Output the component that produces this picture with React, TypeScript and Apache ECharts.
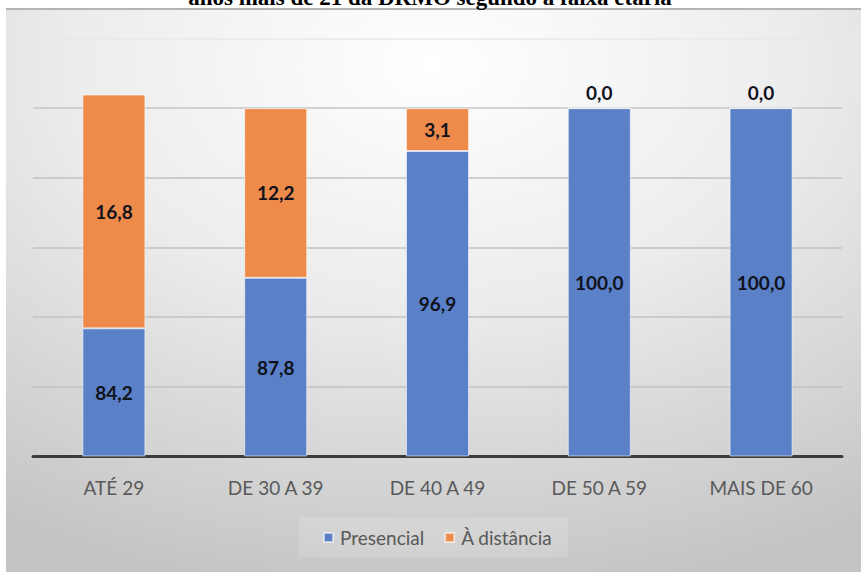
import React, { useEffect, useRef } from "react";
import * as echarts from "echarts";

const categories = ["ATÉ 29", "DE 30 A 39", "DE 40 A 49", "DE 50 A 59", "MAIS DE 60"];
// bar heights as drawn in the reference
const presencialValues = [36.8, 51.3, 87.7, 100, 100];
const distanciaValues = [67.1, 48.7, 12.3, 0, 0];
// data labels as printed in the reference
const presencialLabels = ["84,2", "87,8", "96,9", "100,0", "100,0"];
const distanciaLabels = ["16,8", "12,2", "3,1", "0,0", "0,0"];
const seriesNames = ["Presencial", "À distância"];
const titleText = "anos mais de 21 da DRMO segundo a faixa etária";

const BLUE = "#5a80c8";
const ORANGE = "#ee8b4a";
const LABEL_FONT = "Lato, 'Noto Sans', sans-serif";

export default function App() {
  const ref = useRef<HTMLDivElement>(null);
  useEffect(() => {
    if (!ref.current) return;
    const chart = echarts.init(ref.current, undefined, { renderer: "svg" });
    const dataLabel = {
      show: true,
      fontFamily: LABEL_FONT,
      fontWeight: "bold" as const,
      fontSize: 19,
      color: "#10121c",
    };
    chart.setOption({
      animation: false,
      backgroundColor: "#ffffff",
      graphic: [
        {
          type: "rect",
          silent: true,
          z: -10,
          shape: { x: 6, y: 8, width: 855, height: 564 },
          style: {
            fill: new echarts.graphic.RadialGradient(0.5, 0.1, 0.95, [
              { offset: 0, color: "#ffffff" },
              { offset: 0.45, color: "#ececec" },
              { offset: 1, color: "#c4c4c4" },
            ]),
          },
        },
        {
          type: "line",
          silent: true,
          z: -9,
          shape: { x1: 6, y1: 9, x2: 861, y2: 9 },
          style: { stroke: "#b4b4b4", lineWidth: 2 },
        },
        {
          type: "text",
          silent: true,
          x: 430,
          y: 9,
          style: {
            text: titleText,
            font: "bold 23px 'Liberation Serif', 'Times New Roman', serif",
            fill: "#000000",
            textAlign: "center",
            textVerticalAlign: "bottom",
          },
        },
      ],
      grid: { left: 33, right: 19, top: 38.5, bottom: 115.5 },
      legend: {
        data: seriesNames,
        left: 299,
        top: 517,
        padding: [11, 16, 10, 24],
        backgroundColor: "rgba(255,255,255,0.14)",
        icon: "rect",
        itemWidth: 9,
        itemHeight: 9,
        itemGap: 20,
        textStyle: {
          fontFamily: LABEL_FONT,
          fontSize: 19,
          color: "#595959",
          padding: [0, 0, 0, 2],
        },
      },
      xAxis: {
        type: "category",
        data: categories,
        axisTick: { show: false },
        axisLine: { lineStyle: { color: "#3c3c3c", width: 3 } },
        axisLabel: {
          fontFamily: LABEL_FONT,
          fontSize: 19,
          color: "#595959",
          margin: 21,
        },
      },
      yAxis: {
        type: "value",
        min: 0,
        max: 120,
        interval: 20,
        axisLabel: { show: false },
        axisLine: { show: false },
        axisTick: { show: false },
        splitLine: {
          lineStyle: {
            color: ["#c2c2c2", "#c2c2c2", "#c2c2c2", "#c2c2c2", "#c2c2c2", "#c6c6c6", "#e8e8e8"],
            width: 1.5,
          },
        },
      },
      series: [
        {
          name: seriesNames[0],
          type: "bar",
          stack: "total",
          barWidth: 63,
          itemStyle: { color: BLUE, borderColor: "rgba(255,255,255,0.55)", borderWidth: 1 },
          label: { ...dataLabel, position: "inside", formatter: (p: any) => presencialLabels[p.dataIndex] },
          data: presencialValues,
        },
        {
          name: seriesNames[1],
          type: "bar",
          stack: "total",
          barWidth: 63,
          itemStyle: { color: ORANGE, borderColor: "rgba(255,255,255,0.55)", borderWidth: 1 },
          label: { ...dataLabel, position: "inside", formatter: (p: any) => distanciaLabels[p.dataIndex] },
          data: distanciaValues.map((v) =>
            v === 0 ? { value: v, label: { position: "top", distance: 6 } } : v
          ),
        },
      ],
    });
    return () => chart.dispose();
  }, []);
  return (
    <div
      ref={ref}
      style={{ position: "absolute", left: 0, top: 0, width: 861, height: 572 }}
    />
  );
}
